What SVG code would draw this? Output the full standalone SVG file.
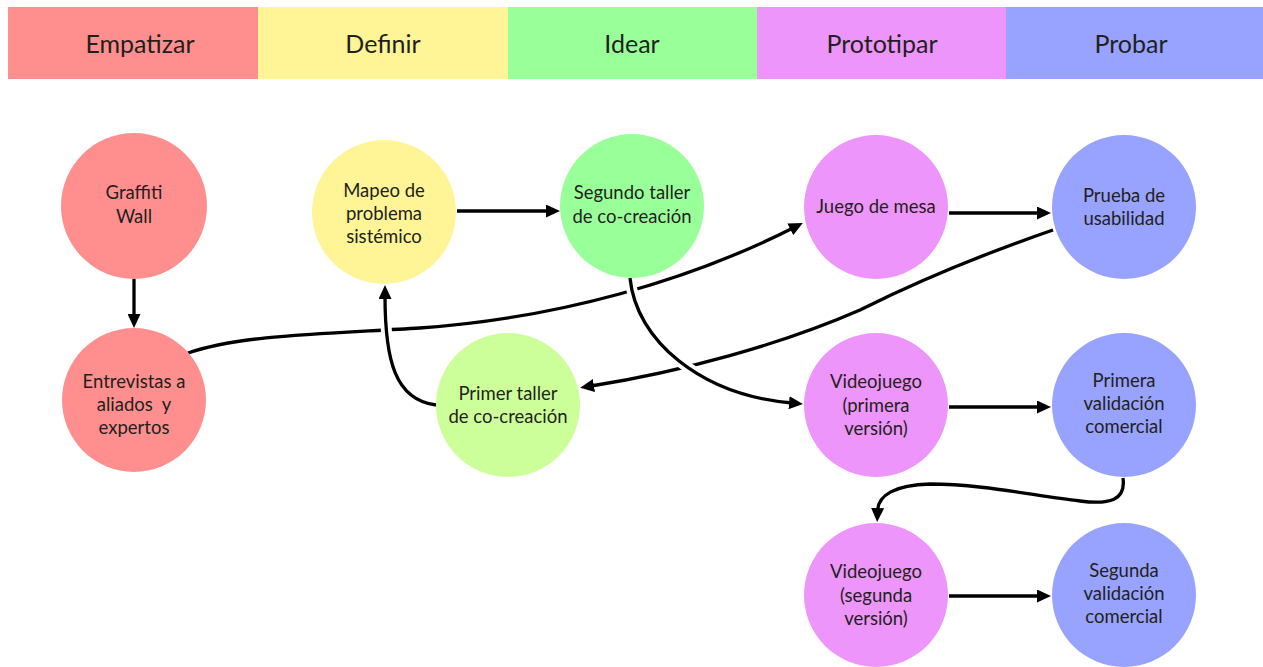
<svg xmlns="http://www.w3.org/2000/svg" width="1263" height="667" viewBox="0 0 1263 667">
<defs>
<marker id="ah" viewBox="0 0 14 13" markerWidth="14" markerHeight="13" markerUnits="userSpaceOnUse" refX="3" refY="6.5" orient="auto">
<path d="M0,0 L14,6.5 L0,13 z" fill="#000"/>
</marker>
<style>
.hd{font-family:Lato,"Open Sans","Liberation Sans",sans-serif;font-size:25px;fill:#231f20;text-anchor:middle}
.t{font-family:Lato,"Open Sans","Liberation Sans",sans-serif;font-size:18.5px;fill:#231f20;text-anchor:middle;white-space:pre}
.c{fill:none;stroke:#000;stroke-width:3.3;marker-end:url(#ah)}
.halo{fill:none;stroke:#fff;stroke-width:11}
.red{fill:#ff8f8f}.yel{fill:#fff597}.grn{fill:#99ff99}.lgr{fill:#ccff99}.mag{fill:#ee95fb}.blu{fill:#97a3ff}
</style>
</defs>
<rect width="1263" height="667" fill="#fff"/>
<g id="header">
<rect class="red" x="8" y="7" width="250" height="72"/>
<rect class="yel" x="258" y="7" width="250" height="72"/>
<rect class="grn" x="508" y="7" width="249" height="72"/>
<rect class="mag" x="757" y="7" width="249" height="72"/>
<rect class="blu" x="1006" y="7" width="257" height="72"/>
<text class="hd" x="140" y="53">Empatizar</text>
<text class="hd" x="383" y="53">Definir</text>
<text class="hd" x="632" y="53">Idear</text>
<text class="hd" x="882" y="53">Prototipar</text>
<text class="hd" x="1131" y="53">Probar</text>
</g>
<g id="connectors">
<path class="c" d="M188,353 C240,335 320,334 420,328 C560,318 690,280 793,228"/>
<path class="c" d="M1053,230 C960,262 900,290 860,310 C780,345 680,372 591,386"/>
<path class="halo" d="M436,405 C395,400 385,360 385,296"/>
<path class="c" d="M436,405 C395,400 385,360 385,296"/>
<path class="halo" d="M630,278 C636,340 700,395 792,403"/>
<path class="c" d="M630,278 C636,340 700,395 792,403"/>
<path class="c" d="M134,279 L134,317"/>
<path class="c" d="M457,211 L549,211"/>
<path class="c" d="M949,213 L1040,213"/>
<path class="c" d="M949,407 L1040,407"/>
<path class="c" d="M949,596 L1040,596"/>
<path class="c" d="M1123,478 C1126,500 1110,505 1080,501 C1030,495 980,484 930,484 C895,485 878,495 877.5,511"/>
</g>
<g id="n-graffiti"><circle class="red" cx="134" cy="206" r="73"/><text class="t" x="134"><tspan x="134" y="199">Graffiti</tspan><tspan x="134" y="223">Wall</tspan></text></g>
<g id="n-entrevistas"><circle class="red" cx="134" cy="400" r="72"/><text class="t" xml:space="preserve"><tspan x="134" y="388">Entrevistas a</tspan><tspan x="134" y="411">aliados  y</tspan><tspan x="134" y="434">expertos</tspan></text></g>
<g id="n-mapeo"><circle class="yel" cx="384" cy="212" r="72"/><text class="t"><tspan x="384" y="197">Mapeo de</tspan><tspan x="384" y="220">problema</tspan><tspan x="384" y="243">sistémico</tspan></text></g>
<g id="n-segundo-taller"><circle class="grn" cx="632" cy="206" r="72"/><text class="t"><tspan x="632" y="199">Segundo taller</tspan><tspan x="632" y="223">de co-creación</tspan></text></g>
<g id="n-primer-taller"><circle class="lgr" cx="508" cy="405" r="72"/><text class="t"><tspan x="508" y="400">Primer taller</tspan><tspan x="508" y="423">de co-creación</tspan></text></g>
<g id="n-juego"><circle class="mag" cx="876" cy="207" r="72"/><text class="t" x="876" y="213">Juego de mesa</text></g>
<g id="n-prueba"><circle class="blu" cx="1124" cy="207" r="72"/><text class="t"><tspan x="1124" y="202">Prueba de</tspan><tspan x="1124" y="225">usabilidad</tspan></text></g>
<g id="n-video1"><circle class="mag" cx="876" cy="405" r="72"/><text class="t"><tspan x="876" y="388">Videojuego</tspan><tspan x="876" y="412">(primera</tspan><tspan x="876" y="435">versión)</tspan></text></g>
<g id="n-valid1"><circle class="blu" cx="1124" cy="405" r="72"/><text class="t"><tspan x="1124" y="387">Primera</tspan><tspan x="1124" y="410">validación</tspan><tspan x="1124" y="433">comercial</tspan></text></g>
<g id="n-video2"><circle class="mag" cx="876" cy="595" r="72"/><text class="t"><tspan x="876" y="578">Videojuego</tspan><tspan x="876" y="602">(segunda</tspan><tspan x="876" y="625">versión)</tspan></text></g>
<g id="n-valid2"><circle class="blu" cx="1124" cy="595" r="72"/><text class="t"><tspan x="1124" y="577">Segunda</tspan><tspan x="1124" y="600">validación</tspan><tspan x="1124" y="623">comercial</tspan></text></g>
</svg>
